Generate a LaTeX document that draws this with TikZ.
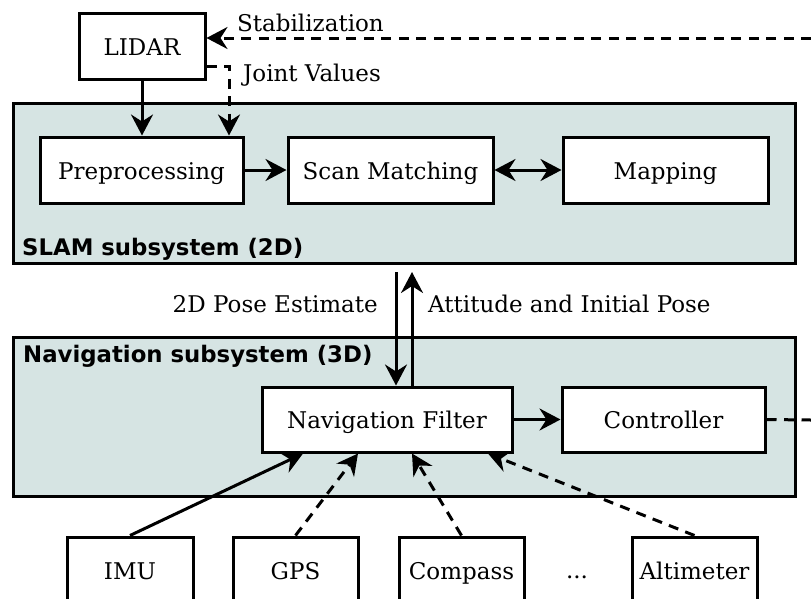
\documentclass[tikz,border=0pt]{standalone}
\usepackage{fontspec}
\setmainfont{DejaVu Serif}
\newfontfamily\grouplabelfont{DejaVu Sans}
\usetikzlibrary{arrows.meta}
\definecolor{groupfill}{RGB}{214,228,227}
\tikzset{
  block/.style={draw, line width=3pt, fill=white, inner sep=0pt,
    minimum height=66pt, text height=18pt, text depth=0pt,
    font=\fontsize{23}{27}\selectfont},
  group/.style={draw, line width=3pt, fill=groupfill},
  grouplabel/.style={anchor=base west, inner sep=0pt,
    font=\grouplabelfont\bfseries\fontsize{22.8}{26}\selectfont},
  lbl/.style={inner sep=0pt, font=\fontsize{23}{27}\selectfont},
  conn/.style={line width=3pt, -{Stealth[length=21pt,width=22pt,inset=7pt]}},
  biconn/.style={line width=3pt, {Stealth[length=21pt,width=22pt,inset=7pt]}-{Stealth[length=21pt,width=22pt,inset=7pt]}},
  dashconn/.style={conn, dash pattern=on 10pt off 7.5pt},
  dashline/.style={line width=3pt, dash pattern=on 10pt off 7.5pt},
}
\begin{document}
\begin{tikzpicture}[x=1pt,y=-1pt]
\useasboundingbox (0,0) rectangle (811,598);

% subsystem frames
\node[group, minimum width=782pt, minimum height=160pt, inner sep=0pt] (SLAM) at (404,183) {};
\node[group, minimum width=782pt, minimum height=159pt, inner sep=0pt] (NAV) at (404,416.5) {};
\node[grouplabel] (slamlbl) at (22,255) {SLAM subsystem (2D)};
\node[grouplabel] (navlbl) at (23,362) {Navigation subsystem (3D)};

% blocks
\node[block, minimum width=126pt] (LIDAR) at (142,46) {LIDAR};
\node[block, minimum width=203pt] (Pre) at (141.5,170) {Preprocessing};
\node[block, minimum width=205pt] (Scan) at (390.5,170) {Scan Matching};
\node[block, minimum width=205pt] (Map) at (665.5,170) {Mapping};
\node[block, minimum width=250pt, minimum height=65pt] (NF) at (387,419.5) {Navigation Filter};
\node[block, minimum width=203pt, minimum height=65pt] (Ctrl) at (663.5,419.5) {Controller};

% sensors
\node[block, minimum width=126pt] (IMU) at (130,570) {IMU};
\node[block, minimum width=125pt] (GPS) at (295.5,570) {GPS};
\node[block, minimum width=125pt] (Comp) at (461.5,570) {Compass};
\node[block, minimum width=125pt] (Alt) at (694.5,570) {Altimeter};
\node[lbl, anchor=base] (dots) at (577,578) {...};

% helper coordinates
\coordinate (stab) at (811,38);
\coordinate (jv) at (229,66);
\coordinate (ctrlout) at (811,420);
\coordinate (down) at (396,272);
\coordinate (up) at (412,272);
\coordinate (tImu) at (303,452);
\coordinate (tGps) at (358,452);
\coordinate (tComp) at (412,452);
\coordinate (tAlt) at (488,452);

% LIDAR links
\draw[dashconn] (stab) -- (LIDAR.east |- stab);
\node[lbl, anchor=base west] (stablbl) at (237,31) {Stabilization};
\draw[dashconn] (LIDAR.east |- jv) -- (jv) -- (jv |- Pre.north);
\node[lbl, anchor=base west] (jvlbl) at (243,81) {Joint Values};
\draw[conn] (LIDAR.south) -- (LIDAR.south |- Pre.north);

% SLAM internals
\draw[conn] (Pre) -- (Scan);
\draw[biconn] (Scan) -- (Map);

% between subsystems
\draw[conn] (down) -- (down |- NF.north);
\draw[conn] (up |- NF.north) -- (up);
\node[lbl, anchor=base east] (poselbl) at (378,312) {2D Pose Estimate};
\node[lbl, anchor=base west] (attlbl) at (428,312) {Attitude and Initial Pose};

% navigation internals
\draw[conn] (NF) -- (Ctrl);
\draw[dashline] (Ctrl.east) -- (ctrlout);

% sensor inputs
\draw[conn] (IMU.north) -- (NF.south -| tImu);
\draw[dashconn] (GPS.north) -- (NF.south -| tGps);
\draw[dashconn] (Comp.north) -- (NF.south -| tComp);
\draw[dashconn] (Alt.north) -- (NF.south -| tAlt);
\end{tikzpicture}
\end{document}
